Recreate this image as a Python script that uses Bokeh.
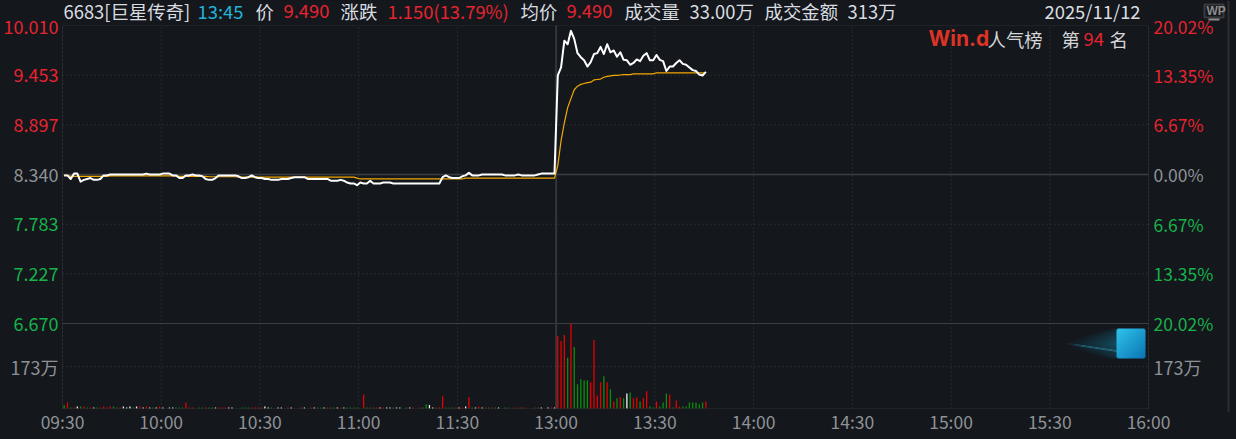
import numpy as np
from bokeh.embed import file_html
from bokeh.resources import INLINE
from bokeh.plotting import figure
from bokeh.models import (Range1d, FixedTicker, Label, BoxAnnotation, ColumnDataSource)

# ---------- data ----------
time_labels = ["09:30", "10:00", "10:30", "11:00", "11:30", "13:00", "13:30",
               "14:00", "14:30", "15:00", "15:30", "16:00"]
price_ticks_up = [10.010, 9.453, 8.897]
price_ticks_dn = [7.783, 7.227, 6.670]
pct_up = ["20.02%", "13.35%", "6.67%"]
pct_dn = ["6.67%", "13.35%", "20.02%"]
prev_close = 8.340
vol_tick = 173

price = [8.33, 8.33, 8.29, 8.35, 8.35, 8.26, 8.28, 8.29, 8.30, 8.28,
         8.28, 8.29, 8.33, 8.33, 8.34, 8.34, 8.34, 8.34, 8.34, 8.34,
         8.34, 8.34, 8.34, 8.34, 8.34, 8.35, 8.34, 8.34, 8.34, 8.34,
         8.35, 8.35, 8.35, 8.33, 8.33, 8.30, 8.30, 8.33, 8.33, 8.34,
         8.33, 8.33, 8.32, 8.29, 8.28, 8.28, 8.30, 8.33, 8.33, 8.33,
         8.33, 8.33, 8.33, 8.32, 8.30, 8.30, 8.31, 8.33, 8.31, 8.30,
         8.30, 8.29, 8.29, 8.28, 8.28, 8.28, 8.29, 8.29, 8.29, 8.30,
         8.31, 8.31, 8.31, 8.31, 8.29, 8.29, 8.29, 8.29, 8.29, 8.29,
         8.29, 8.27, 8.27, 8.27, 8.28, 8.27, 8.25, 8.24, 8.24, 8.22,
         8.25, 8.24, 8.24, 8.27, 8.24, 8.24, 8.24, 8.25, 8.25, 8.25,
         8.24, 8.24, 8.24, 8.24, 8.24, 8.24, 8.24, 8.24, 8.24, 8.24,
         8.24, 8.24, 8.24, 8.24, 8.24, 8.31, 8.33, 8.31, 8.30, 8.30,
         8.30, 8.32, 8.33, 8.36, 8.33, 8.33, 8.33, 8.34, 8.34, 8.34,
         8.34, 8.34, 8.34, 8.34, 8.33, 8.33, 8.33, 8.33, 8.34, 8.33,
         8.33, 8.33, 8.33, 8.33, 8.34, 8.35, 8.35, 8.35, 8.35, 8.35,
         9.45, 9.54, 9.84, 9.80, 9.95, 9.86, 9.70, 9.655, 9.62, 9.55,
         9.60, 9.69, 9.70, 9.77, 9.69, 9.80, 9.71, 9.73, 9.66, 9.71,
         9.625, 9.62, 9.57, 9.59, 9.63, 9.61, 9.67, 9.70, 9.62, 9.62,
         9.68, 9.625, 9.61, 9.50, 9.55, 9.55, 9.59, 9.62, 9.58, 9.57,
         9.54, 9.51, 9.50, 9.46, 9.45, 9.49]

avg_price = [8.33, 8.33, 8.32, 8.32, 8.32, 8.32, 8.32, 8.32, 8.32, 8.32,
             8.32, 8.32, 8.32, 8.32, 8.325, 8.325, 8.325, 8.325, 8.325, 8.325,
             8.325, 8.325, 8.325, 8.325, 8.325, 8.325, 8.325, 8.325, 8.325, 8.325,
             8.325, 8.325, 8.325, 8.325, 8.325, 8.32, 8.32, 8.32, 8.32, 8.32,
             8.32, 8.32, 8.32, 8.32, 8.315, 8.315, 8.315, 8.315, 8.315, 8.315,
             8.315, 8.315, 8.315, 8.31, 8.31, 8.31, 8.31, 8.31, 8.31, 8.31,
             8.31, 8.31, 8.31, 8.31, 8.31, 8.31, 8.31, 8.31, 8.31, 8.31,
             8.31, 8.31, 8.31, 8.31, 8.31, 8.31, 8.31, 8.31, 8.31, 8.31,
             8.31, 8.31, 8.31, 8.31, 8.31, 8.31, 8.31, 8.31, 8.31, 8.30,
             8.29, 8.29, 8.29, 8.29, 8.29, 8.29, 8.29, 8.29, 8.29, 8.29,
             8.29, 8.29, 8.29, 8.29, 8.29, 8.29, 8.29, 8.29, 8.29, 8.29,
             8.29, 8.29, 8.29, 8.29, 8.29, 8.29, 8.29, 8.29, 8.29, 8.29,
             8.29, 8.29, 8.30, 8.30, 8.30, 8.30, 8.30, 8.30, 8.30, 8.30,
             8.30, 8.30, 8.30, 8.30, 8.30, 8.30, 8.30, 8.30, 8.30, 8.30,
             8.30, 8.30, 8.30, 8.30, 8.30, 8.30, 8.30, 8.30, 8.30, 8.30,
             8.44, 8.72, 8.92, 9.09, 9.19, 9.29, 9.33, 9.35, 9.36, 9.37,
             9.375, 9.40, 9.405, 9.41, 9.43, 9.44, 9.445, 9.45, 9.45, 9.455,
             9.46, 9.46, 9.46, 9.468, 9.468, 9.468, 9.468, 9.468, 9.468, 9.468,
             9.48, 9.48, 9.48, 9.48, 9.48, 9.48, 9.48, 9.48, 9.48, 9.48,
             9.48, 9.48, 9.48, 9.48, 9.48, 9.48]

volume = [14, 25, 4, 4, 8, 8, 8, 4, 4, 4, 4, 4, 8, 4, 8, 8, 4, 4, 8, 4,
          8, 4, 8, 8, 4, 8, 4, 4, 4, 8, 4, 0, 4, 4, 4, 4, 4, 25, 4, 4,
          0, 4, 4, 4, 4, 4, 4, 4, 4, 4, 4, 4, 0, 0, 4, 4, 4, 4, 4, 4,
          4, 8, 4, 4, 0, 4, 4, 0, 4, 4, 0, 0, 4, 4, 0, 4, 4, 4, 4, 4,
          4, 4, 4, 4, 4, 4, 4, 4, 4, 4, 0, 58, 4, 4, 4, 4, 4, 4, 4, 4,
          4, 4, 4, 0, 4, 4, 4, 0, 4, 4, 18, 14, 4, 4, 4, 50, 4, 4, 4, 4,
          4, 4, 8, 46, 4, 4, 8, 4, 4, 4, 4, 4, 4, 0, 4, 4, 0, 4, 4, 4,
          4, 0, 0, 4, 4, 4, 0, 4, 4, 4,
          299, 278, 303, 209, 349, 253, 100, 120, 116, 116, 108, 282, 54, 108, 133, 108,
          79, 29, 42, 46, 42, 62, 66, 42, 46, 29, 42, 71, 8, 4, 29, 8, 25, 62, 58, 4,
          33, 8, 8, 8, 25, 25, 25, 17, 25, 29]

vol_side = ("g r g r w g r g r w g r r r r g g r w w w g w r w r w g w r w w w w g g g r r r "
            "w g g r g g w r r r w w w w g g g r r r r w w g w w w w r w w r r w r r w g g w "
            "r g g w r w g g g g w r g g r r w r w w g w w w g w r w r g g w w r r r g g g r "
            "w r w r g w r w r g r g w w g g w r r g r w w r g w w w r w "
            "r r r g r g g g g g r r r r g r g r g r g w g r r g r r g g r g g g r g r r g g "
            "g g g g g r").split()

side_colors = {"r": "#e60000", "g": "#0b8f0b", "w": "#f2f2f2"}

# ---------- figure ----------
BG = "#14171c"
RED = "#e6242f"
GREEN = "#17b24a"
GRAY = "#8e9296"
WHITE = "#d9dde0"
FRAME = "#3b3e43"
DOT = "#3a3d42"
FONT = "Noto Sans CJK SC"
SIZE = "17.5px"
HEAD = "18.4px"

# Frame fills the picture above the time labels so that all texts can lie inside it.
# Plot box in picture pixels: x 62..1148, y 25..408; the frame ends at y=412.
FR_B = 412
min_per_px = 330 / 1086
px_per_yuan = 298 / (10.010 - 6.670)
vol_per_px = 173 / 42
p_low = 10.010 - (408 - 25) / px_per_yuan

p = figure(width=1236, height=439, output_backend="svg", toolbar_location=None,
           x_range=Range1d(-62 * min_per_px, (1236 - 62) * min_per_px),
           y_range=Range1d(10.010 - (FR_B - 25) / px_per_yuan, 10.010 + 25 / px_per_yuan),
           min_border_left=0, min_border_right=0, min_border_top=0, min_border_bottom=439 - FR_B,
           background_fill_color=BG, border_fill_color=BG, outline_line_color=None)
p.extra_y_ranges = {"vol": Range1d(-(FR_B - 408) * vol_per_px, 408 * vol_per_px)}

x_ticks = [i * 30 for i in range(len(time_labels))]
p.xaxis.ticker = FixedTicker(ticks=x_ticks)
p.xaxis.major_label_overrides = dict(zip(x_ticks, time_labels))
p.xaxis.major_label_text_color = GRAY
p.xaxis.major_label_text_font = FONT
p.xaxis.major_label_text_font_size = SIZE
p.xaxis.major_label_standoff = -4
p.xaxis.major_tick_out = 0
p.xaxis.major_tick_in = 0
p.xaxis.axis_line_color = None
p.xaxis.major_tick_line_color = None
p.xaxis.minor_tick_line_color = None
p.yaxis.visible = False
p.grid.visible = False

# dotted grid, limited to the plot box
p.segment(x0=x_ticks, x1=x_ticks, y0=[p_low] * len(x_ticks), y1=[10.010] * len(x_ticks),
          line_color=DOT, line_width=1, line_dash="1 3")
h_grid = price_ticks_up[1:] + price_ticks_dn[:2]
p.segment(x0=[0] * len(h_grid), x1=[330] * len(h_grid), y0=h_grid, y1=h_grid,
          line_color=DOT, line_width=1, line_dash="1 3")
p.segment(x0=[0], x1=[330], y0=[vol_tick], y1=[vol_tick], y_range_name="vol",
          line_color=DOT, line_width=1, line_dash="1 3")
# solid guides
p.segment(x0=[0], x1=[330], y0=[prev_close], y1=[prev_close], line_color="#3a3d42", line_width=1.5)
p.segment(x0=[0], x1=[330], y0=[6.670], y1=[6.670], line_color=FRAME, line_width=1)
p.segment(x0=[150], x1=[150], y0=[p_low], y1=[10.010], line_color="#33363b", line_width=2)
p.add_layout(BoxAnnotation(left=0, right=330, bottom=p_low, top=10.010, fill_alpha=0,
                           line_color=FRAME, line_width=1))

# glow + square decoration
W, H = 83, 30
img = np.zeros((H, W, 4), dtype=np.uint8)
yy, xx = np.mgrid[0:H, 0:W]
sq = xx >= 54
fx = (xx - 54) / 28.0
fy = (H - 1 - yy) / 29.0
t = np.clip((fx + fy) / 2, 0, 1)
haze = np.clip(xx / 54.0, 0, 1) ** 1.3 * np.clip(1 - np.abs(yy - 14) / (3 + 14 * xx / 54.0), 0, 1) ** 0.6
img[..., 0] = 20
img[..., 1] = 125
img[..., 2] = 160
img[..., 3] = (haze * 135).astype(np.uint8)
ly = H - 1 - (14 + (xx / 54.0) * 8)
bright = np.clip(1 - np.abs(yy - ly) / (0.8 + xx / 54.0 * 0.5), 0, 1) * (xx < 54) * np.clip(xx / 20.0, 0, 1)
img[..., 0] = (img[..., 0] * (1 - bright) + 60 * bright).astype(np.uint8)
img[..., 1] = (img[..., 1] * (1 - bright) + 190 * bright).astype(np.uint8)
img[..., 2] = (img[..., 2] * (1 - bright) + 225 * bright).astype(np.uint8)
img[..., 3] = np.maximum(img[..., 3], (bright * 210).astype(np.uint8))
img[..., 0][sq] = (46 * (1 - t) + 12 * t)[sq].astype(np.uint8)
img[..., 1][sq] = (196 * (1 - t) + 118 * t)[sq].astype(np.uint8)
img[..., 2][sq] = (236 * (1 - t) + 178 * t)[sq].astype(np.uint8)
img[..., 3][sq] = 255
for cy, cx in [(0, 54), (0, 82), (29, 54), (29, 82)]:
    img[cy, cx, 3] = 0
rgba = img.view(dtype=np.uint32).reshape(H, W)
p.image_rgba(image=[rgba], x=(1062 - 62) * min_per_px, y=(408 - 358) * vol_per_px,
             dw=W * min_per_px, dh=H * vol_per_px, y_range_name="vol")

# volume bars
idx = np.arange(len(price))
mid = idx + 0.5
src = ColumnDataSource(dict(x=mid, v=volume, z=[0] * len(volume),
                            c=[side_colors[s] for s in vol_side]))
p.segment(x0="x", x1="x", y0="z", y1="v", color="c", line_width=1.3, source=src, y_range_name="vol")

# lines
p.line(mid, avg_price, line_color="#f2a900", line_width=1.2)
p.line(mid, price, line_color="#ffffff", line_width=2, line_join="round")

# ---------- texts ----------
def lab(x, y, text, color, anchor="left", size=SIZE, font=FONT, style="normal"):
    # x, y are picture pixels; Label's screen units count from the frame's bottom-left corner
    p.add_layout(Label(x=x, y=FR_B - y, x_units="screen", y_units="screen", text=text,
                       text_color=color, text_align=anchor, text_baseline="middle",
                       text_font=font, text_font_size=size, text_font_style=style))

def ylab_y(v):
    # the topmost labels sit a little below their level, as in the reference
    return 25 + (10.010 - v) * px_per_yuan + (1 if v == 10.010 else 0)

for v, s in zip(price_ticks_up, pct_up):
    lab(58, ylab_y(v), f"{v:.3f}", RED, "right", size="18px")
    lab(1153, ylab_y(v), s, RED)
lab(58, ylab_y(prev_close), f"{prev_close:.3f}", GRAY, "right", size="18px")
lab(1153, ylab_y(prev_close), "0.00%", GRAY)
for v, s in zip(price_ticks_dn, pct_dn):
    lab(58, ylab_y(v), f"{v:.3f}", GREEN, "right", size="18px")
    lab(1153, ylab_y(v), s, GREEN)
lab(58, 366, f"{vol_tick}万", GRAY, "right", size="18px")
lab(1153, 366, f"{vol_tick}万", GRAY, size="18px")

header = [(63, "6683[巨星传奇]", WHITE), (197, "13:45", "#22b3d6"), (255, "价", WHITE),
          (283, "9.490", RED), (340, "涨跌", WHITE), (387, "1.150(13.79%)", RED),
          (520, "均价", WHITE), (566, "9.490", RED), (624, "成交量", WHITE),
          (689, "33.00万", WHITE), (764, "成交金额", WHITE), (847, "313万", WHITE),
          (1044, "2025/11/12", WHITE)]
for x, t_, c in header:
    lab(x, 10, t_, c, size=HEAD)

lab(928, 38, "Win.d", "#dd3326", size="21px", font="Inter", style="bold")
lab(987, 38, "人气榜", "#d4d6d8", size=HEAD)
lab(1061, 38, "第", "#d4d6d8", size=HEAD)
lab(1083, 38, "94", RED, size=HEAD)
lab(1109, 38, "名", "#d4d6d8", size=HEAD)

# WP monitor icon
lab(1206, 10, "WP", "#8c8c8c", size="12px", font="Liberation Sans", style="bold")
def box(x0, x1, y0, y1, fill, line=None):
    p.add_layout(BoxAnnotation(left=x0, right=x1, bottom=FR_B - y1, top=FR_B - y0,
                               left_units="screen", right_units="screen",
                               top_units="screen", bottom_units="screen",
                               fill_color=fill, fill_alpha=1 if fill else 0,
                               line_color=line, line_width=2))
box(1204, 1223, 4, 17, None, "#8c8c8c")
box(1208, 1219, 18, 20, "#8c8c8c")
box(1227, 1229, 0, 412, "#2d2f33")

html = file_html(p, INLINE).replace("<head>", f"<head><style>html,body{{margin:0;background:{BG}}}</style>", 1)
open("out.html", "w").write(html)
